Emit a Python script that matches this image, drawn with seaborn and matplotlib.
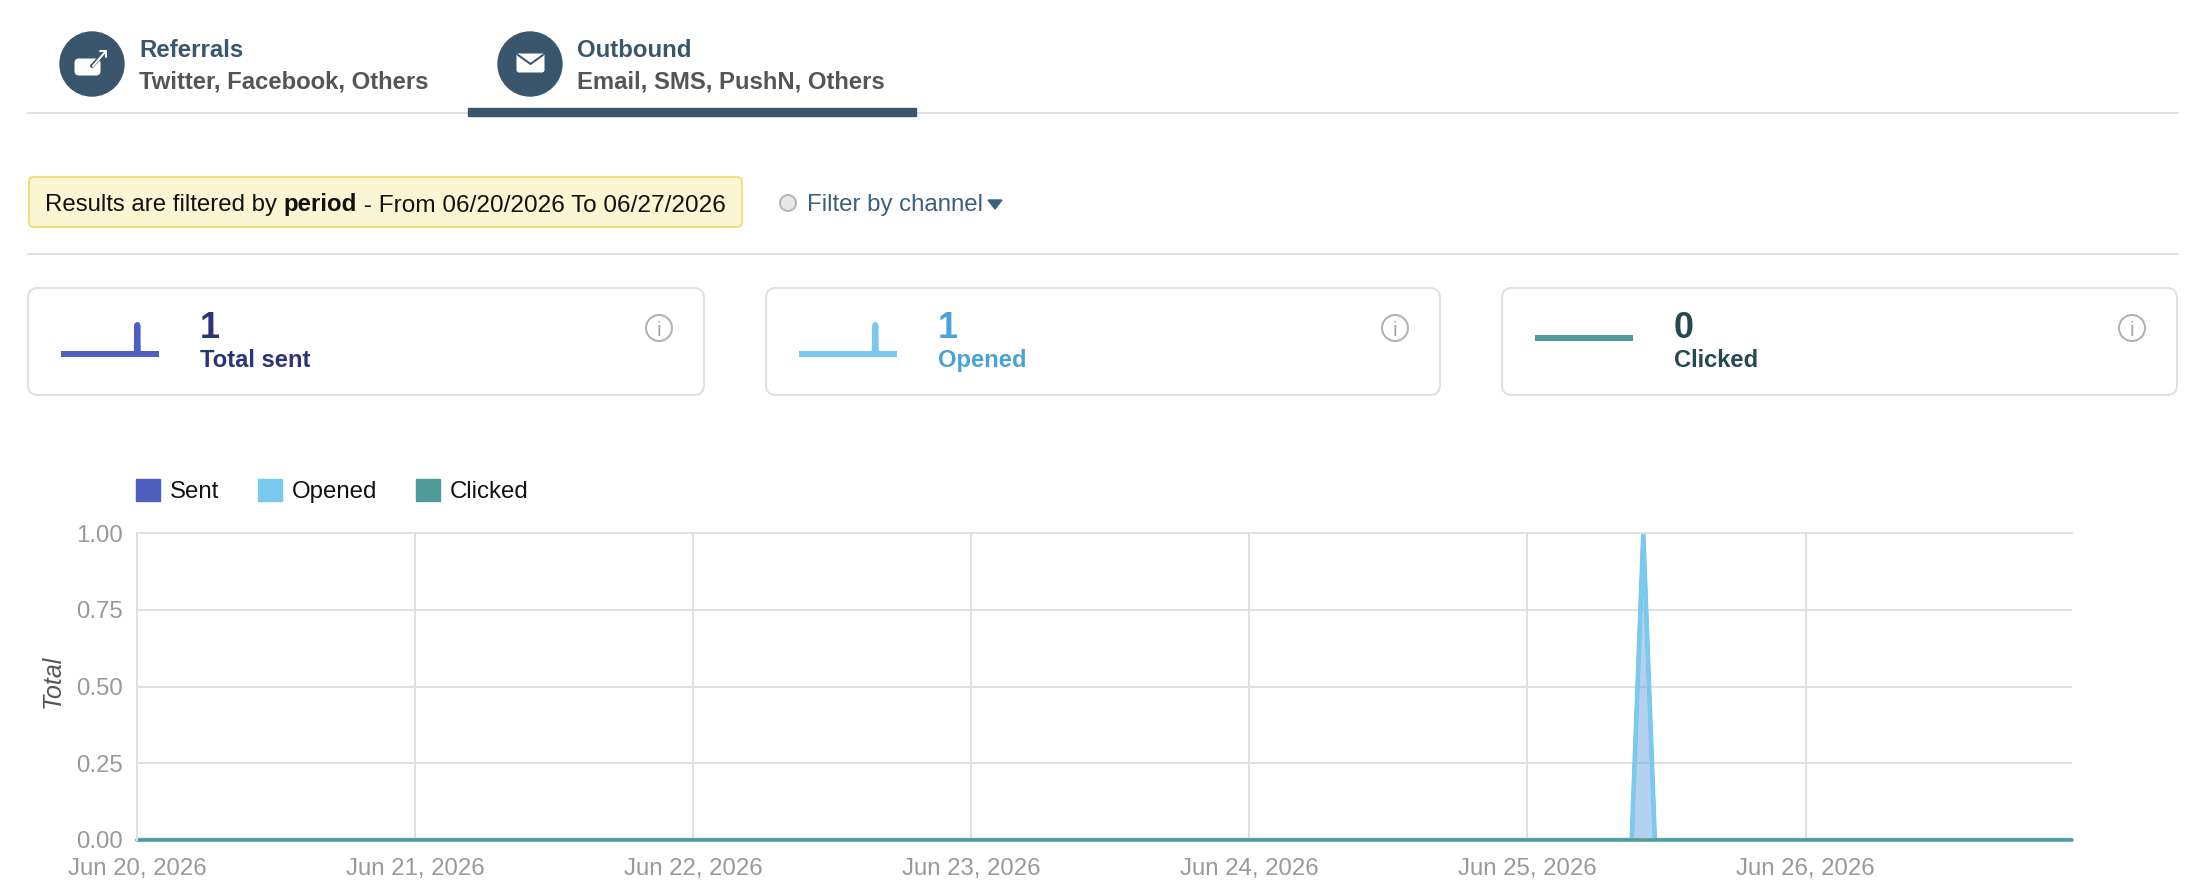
import pandas as pd
import matplotlib.pyplot as plt
import matplotlib.dates as mdates
import seaborn as sns
from matplotlib.patches import Circle, FancyBboxPatch, Patch, Polygon, Rectangle


# ── Data ──────────────────────────────────────────────────────────────────────

TIMES = ["2026-06-20 00:00", "2026-06-25 09:00", "2026-06-25 10:00",
         "2026-06-25 11:00", "2026-06-26 23:00"]
SENT    = [0, 0, 1, 0, 0]
OPENED  = [0, 0, 1, 0, 0]
CLICKED = [0, 0, 0, 0, 0]
SERIES  = ["Sent", "Opened", "Clicked"]

CARD_TOTALS = ["1", "1", "0"]
CARD_NAMES  = ["Total sent", "Opened", "Clicked"]
TABS = [("Referrals", "Twitter, Facebook, Others"),
        ("Outbound", "Email, SMS, PushN, Others")]

COLORS      = {"Sent": "#4e5fbf", "Opened": "#7ac9ef", "Clicked": "#4f9a9a"}
CARD_COLORS = ["#2a3478", "#4aa3d4", "#25494f"]
DARK  = "#3a566c"
GRID  = "#e0e0e0"
TICKS = "#999999"

W, H, DPI = 2186, 884, 100

df = pd.DataFrame({"time": pd.to_datetime(TIMES), "Sent": SENT,
                   "Opened": OPENED, "Clicked": CLICKED})
long_df = df.melt(id_vars="time", value_vars=SERIES,
                  var_name="series", value_name="total")


# ── Figure ────────────────────────────────────────────────────────────────────

sns.set_theme(style="whitegrid")
plt.rcParams["font.family"] = ["Liberation Sans", "DejaVu Sans"]

fig = plt.figure(figsize=(W / DPI, H / DPI), dpi=DPI, facecolor="white")


def px(n):
    return n * 72 / DPI


def axes_at(x0, y0, x1, y1):
    """Axes from pixel corners, y measured from the top of the picture."""
    return fig.add_axes([x0 / W, 1 - y1 / H, (x1 - x0) / W, (y1 - y0) / H])


# page furniture lives on one full-size axes in pixel coordinates
ui = axes_at(0, 0, W, H)
ui.set_xlim(0, W)
ui.set_ylim(H, 0)
ui.axis("off")


def label(x, y, s, size, color, weight="normal", ha="left"):
    return ui.text(x, y, s, fontsize=px(size), color=color, weight=weight,
                   ha=ha, va="center_baseline")


def rounded(x0, y0, x1, y1, r, face, edge, lw=2):
    ui.add_patch(FancyBboxPatch((x0, y0), x1 - x0, y1 - y0,
                                boxstyle=f"round,pad=0,rounding_size={r}",
                                fc=face, ec=edge, lw=px(lw)))


# ── Tabs ──────────────────────────────────────────────────────────────────────

ui.plot([28, 2178], [113, 113], color=GRID, lw=px(2))
ui.add_patch(Rectangle((468, 108), 448, 8, color=DARK, zorder=3))

for cx, (title, sub) in zip([92, 530], TABS):
    ui.add_patch(Circle((cx, 64), 32, color=DARK))
    label(cx + 47, 48, title, 24, DARK, "bold")
    label(cx + 47, 79.5, sub, 23.9, "#555555", "bold")

# referral icon: speech box with an outgoing arrow
rounded(75, 59, 100, 75, 4, "white", "white", 1)
ui.plot([92, 106], [66, 51], color=DARK, lw=px(4))
ui.plot([93, 106], [66, 51], color="white", lw=px(2))
ui.plot([100, 106, 106], [51, 51, 57], color="white", lw=px(2))

# outbound icon: envelope
rounded(517, 54, 544, 72, 2, "white", "white", 1)
ui.plot([518, 530.5, 543], [55, 64, 55], color=DARK, lw=px(2))


# ── Filter bar ────────────────────────────────────────────────────────────────

rounded(29, 177, 742, 227, 5, "#faf5d2", "#ede17e")
note = ui.annotate("Results are filtered by ", (45, 203), fontsize=px(24),
                   color="#111111", va="center_baseline")
note = ui.annotate("period", xycoords=note, xy=(1, 0), va="bottom",
                   fontsize=px(24), color="#111111", weight="bold")
ui.annotate(" - From 06/20/2026 To 06/27/2026", xycoords=note, xy=(1, 0),
            va="bottom", fontsize=px(24.4), color="#111111")

ui.add_patch(Circle((788, 203), 8, fc="#e8e8e8", ec="#b5b5b5", lw=px(2)))
label(807, 203, "Filter by channel", 24, "#3a6080")
ui.add_patch(Polygon([(988, 200), (1002, 200), (995, 209)], color="#3a6080"))
ui.plot([28, 2178], [254, 254], color=GRID, lw=px(2))


# ── Summary cards ─────────────────────────────────────────────────────────────

CARD_BOXES = [(28, 704), (766, 1440), (1502, 2177)]

for i, name in enumerate(SERIES):
    x0, x1 = CARD_BOXES[i]
    rounded(x0, 288, x1, 395, 10, "white", GRID)

    label(x0 + 172, 325, CARD_TOTALS[i], 36, CARD_COLORS[i], "bold")
    label(x0 + 172, 358, CARD_NAMES[i], 23.8, CARD_COLORS[i], "bold")

    # info icon
    ix = x1 - 45
    ui.add_patch(Circle((ix, 328), 13, fc="white", ec="#b0b0b0", lw=px(2)))
    label(ix, 328, "i", 21, "#a8a8a8", ha="center")

    # sparkline runs off the same series as the main chart
    spark_y0, spark_y1 = (325, 354) if i < 2 else (309, 338)
    spark = axes_at(x0 + 33, spark_y0, x0 + 131, spark_y1)
    sns.lineplot(data=df, x="time", y=name, color=COLORS[name],
                 linewidth=px(6), ax=spark, legend=False,
                 solid_joinstyle="round", solid_capstyle="butt", clip_on=False)
    spark.set_xlim(df["time"].iloc[0], df["time"].iloc[-1])
    spark.set_ylim(0, 1)
    spark.axis("off")


# ── Main chart ────────────────────────────────────────────────────────────────

ax = axes_at(137, 533, 2072, 840)
ax.set_facecolor("none")

for name, alpha in [("Sent", 0.26), ("Opened", 0.34)]:
    ax.fill_between(df["time"], df[name], color=COLORS[name], alpha=alpha, lw=0)

sns.lineplot(data=long_df, x="time", y="total", hue="series", hue_order=SERIES,
             palette=COLORS, linewidth=px(3.5), legend=False, ax=ax)
ax.lines[1].set_linewidth(px(4.5))
ax.lines[2].set_clip_on(False)

ax.set_xlim(df["time"].iloc[0], df["time"].iloc[-1])
ax.set_ylim(0, 1)
ax.set_yticks([0, 0.25, 0.5, 0.75, 1])
ax.yaxis.set_major_formatter("{x:.2f}")
ax.xaxis.set_major_locator(mdates.DayLocator())
ax.xaxis.set_major_formatter(mdates.DateFormatter("%b %d, %Y"))

ax.grid(True, color=GRID, lw=px(2))
ax.set_axisbelow(True)
for side, spine in ax.spines.items():
    spine.set_visible(side in ("left", "top"))
    spine.set_color(GRID)
    spine.set_linewidth(px(2))

ax.tick_params(axis="x", length=0, pad=px(17.5), labelsize=px(24), labelcolor=TICKS)
ax.tick_params(axis="y", length=0, pad=px(14), labelsize=px(24), labelcolor=TICKS)
ax.set_xlabel("")
ax.set_ylabel("")
ui.text(53, 681, "Total", fontsize=px(25), color="#555555", style="italic",
        rotation=90, ha="center", va="center")

handles = [Patch(color=COLORS[name], label=name) for name in SERIES]
fig.legend(handles=handles, ncol=3, frameon=False, fontsize=px(24),
           loc="lower left", bbox_to_anchor=(136 / W, 1 - 503 / H),
           borderpad=0, borderaxespad=0, handlelength=1, handleheight=1,
           handletextpad=0.42, columnspacing=1.6, labelcolor="#111111")

fig.savefig("out.png", dpi=DPI)
